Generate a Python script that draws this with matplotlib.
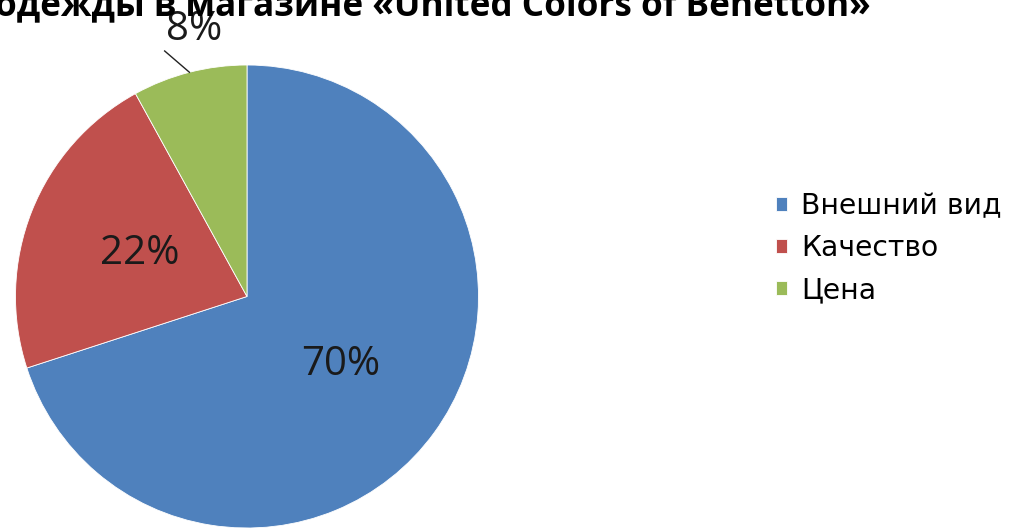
import numpy as np
import matplotlib
matplotlib.use('Agg')
import matplotlib.pyplot as plt

plt.rcParams['font.family'] = ['Open Sans', 'DejaVu Sans']

# данные диаграммы
labels = ['Внешний вид', 'Качество', 'Цена']
values = [70, 22, 8]
colors = ['#4F81BD', '#C0504D', '#9BBB59']
title = 'одежды в магазине «United Colors of Benetton»'

fig = plt.figure(figsize=(10.17, 5.31), dpi=100)

# ось под круг: центр (247, 296) px, радиус 231 px
W, H = 1017, 531
cx, cy, r = 247, 296.5, 231.5
ax = fig.add_axes([(cx - r) / W, (H - cy - r) / H, 2 * r / W, 2 * r / H])

def pct_fmt(p):
    # маленькую долю подписываем снаружи отдельно
    return '' if p < 10 else '{:.0f}%'.format(p)

wedges, _, autotexts = ax.pie(values, colors=colors, startangle=90, counterclock=False,
                              autopct=pct_fmt, pctdistance=0.5,
                              wedgeprops=dict(linewidth=0.6, edgecolor='white'),
                              textprops=dict(fontsize=29, color='#1a1a1a'))
ax.set_aspect('equal')
ax.set_xlim(-1, 1)
ax.set_ylim(-1, 1)

# подпись 8% с выноской
w = wedges[2]
mid = np.deg2rad((w.theta1 + w.theta2) / 2)
ex, ey = np.cos(mid), np.sin(mid)
ax.plot([ex, ex - 0.107], [ey, ey + 0.092], color='#222222', lw=1.0, clip_on=False)
ax.text(ex + 0.02, ey + 0.185, '{:.0f}%'.format(values[2]), fontsize=29, color='#1a1a1a',
        ha='center', va='center', clip_on=False)

# заголовок (обрезан сверху)
fig.text(-5 / W, 1 - 15 / H, title, fontsize=25.3, fontweight='bold',
         ha='left', va='baseline', color='black')

fig.legend(wedges, labels, loc='center left', bbox_to_anchor=(762 / W, 1 - 248 / H),
           frameon=False, prop=dict(family='DejaVu Sans', size=20.3),
           handlelength=0.4, handleheight=0.4,
           handletextpad=0.5, labelspacing=0.5, borderpad=0)

fig.savefig('out.png', dpi=100)
